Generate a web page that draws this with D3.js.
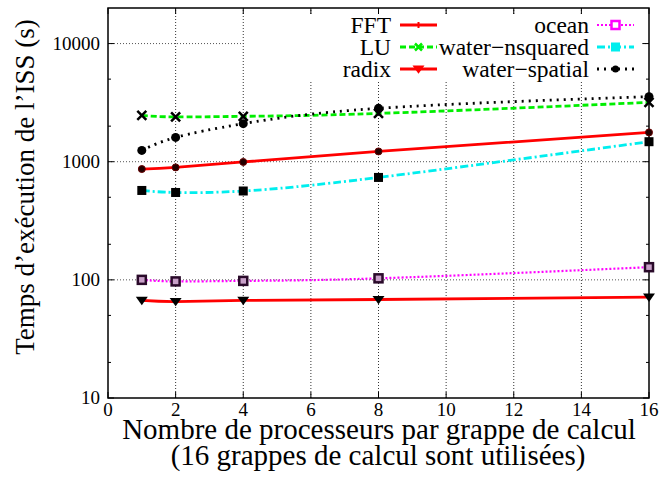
<!DOCTYPE html>
<html>
<head>
<meta charset="utf-8">
<script src="https://cdn.jsdelivr.net/npm/d3@7"></script>
<style>
  body { margin: 0; background: #fff; }
</style>
</head>
<body>
<div id="chart"></div>
<script>
// data
var procs = [1, 2, 4, 8, 16];
var fft = [867, 895, 995, 1222, 1771];
var lu = [2468, 2393, 2421, 2563, 3177];
var radix = [67, 65.5, 67, 68.2, 71.3];
var ocean = [100, 97, 98, 103, 128];
var waterNsquared = [571, 549, 565, 736, 1477];
var waterSpatial = [1247, 1606, 2099, 2830, 3555];

var xTicks = [0, 2, 4, 6, 8, 10, 12, 14, 16];
var yTicks = [10, 100, 1000, 10000];
var yMinor = [20, 50, 200, 500, 2000, 5000];

var width = 663, height = 478;
var margin = {left: 108, right: 14, top: 8, bottom: 80};
var serif = "'Liberation Serif'";

var svg = d3.select("#chart").append("svg")
  .attr("width", width)
  .attr("height", height);

var x = d3.scaleLinear().domain([0, 16]).range([margin.left, width - margin.right]);
var y = d3.scaleLog().domain([10, 20000]).range([height - margin.bottom, margin.top]);

var x0 = x.range()[0], x1 = x.range()[1], y0 = y.range()[0], y1 = y.range()[1];

// grid
var grid = svg.append("g");
grid.selectAll(".gx")
  .data(xTicks.filter(function(d) { return d > 0 && d < 16; }))
  .enter().append("line")
    .attr("x1", function(d) { return x(d); })
    .attr("x2", function(d) { return x(d); })
    .attr("y1", y0).attr("y2", y1)
    .attr("stroke", "#333").attr("stroke-width", 1)
    .attr("stroke-dasharray", "1,2");
grid.selectAll(".gy")
  .data(yTicks.filter(function(d) { return d > 10; }))
  .enter().append("line")
    .attr("x1", x0).attr("x2", x1)
    .attr("y1", function(d) { return y(d); })
    .attr("y2", function(d) { return y(d); })
    .attr("stroke", "#555").attr("stroke-width", 1)
    .attr("stroke-dasharray", "1,2");

// key box hides the grid
svg.append("rect")
  .attr("x", 245).attr("y", 15)
  .attr("width", 396).attr("height", 66)
  .attr("fill", "#fff");

// ticks on all four sides
var ticks = svg.append("g").attr("stroke", "#000").attr("stroke-width", 1);
xTicks.forEach(function(d) {
  ticks.append("line").attr("x1", x(d)).attr("x2", x(d)).attr("y1", y0).attr("y2", y0 - 6);
  ticks.append("line").attr("x1", x(d)).attr("x2", x(d)).attr("y1", y1).attr("y2", y1 + 6);
});
yTicks.forEach(function(d) {
  ticks.append("line").attr("x1", x0).attr("x2", x0 + 6).attr("y1", y(d)).attr("y2", y(d));
  ticks.append("line").attr("x1", x1).attr("x2", x1 - 6).attr("y1", y(d)).attr("y2", y(d));
});
yMinor.forEach(function(d) {
  ticks.append("line").attr("x1", x0).attr("x2", x0 + 3).attr("y1", y(d)).attr("y2", y(d));
  ticks.append("line").attr("x1", x1).attr("x2", x1 - 3).attr("y1", y(d)).attr("y2", y(d));
});

svg.append("rect")
  .attr("x", x0).attr("y", y1)
  .attr("width", x1 - x0).attr("height", y0 - y1)
  .attr("fill", "none").attr("stroke", "#000").attr("stroke-width", 1.5);

// tick labels
svg.selectAll(".xl").data(xTicks).enter().append("text")
  .attr("x", function(d) { return x(d); })
  .attr("y", y0 + 18)
  .attr("text-anchor", "middle")
  .style("font-family", serif)
  .style("font-size", "19px")
  .text(function(d) { return d; });
svg.selectAll(".yl").data(yTicks).enter().append("text")
  .attr("x", x0 - 8)
  .attr("y", function(d) { return y(d) + 6; })
  .attr("text-anchor", "end")
  .style("font-family", serif)
  .style("font-size", "19px")
  .text(function(d) { return d; });

// axis titles
svg.append("text")
  .attr("transform", "translate(34,187) rotate(-90)")
  .attr("text-anchor", "middle")
  .style("font-family", serif)
  .style("font-size", "27px")
  .text("Temps d’exécution de l’ISS (s)");
svg.append("text")
  .attr("x", 379).attr("y", 439)
  .attr("text-anchor", "middle")
  .style("font-family", serif)
  .style("font-size", "29px")
  .text("Nombre de processeurs par grappe de calcul");
svg.append("text")
  .attr("x", 378).attr("y", 465)
  .attr("text-anchor", "middle")
  .style("font-family", serif)
  .style("font-size", "29px")
  .text("(16 grappes de calcul sont utilisées)");

// series
var series = [
  {name: "FFT", values: fft, color: "#ff0000", dash: null, mark: "plus", plotMark: "dot"},
  {name: "LU", values: lu, color: "#00ee00", dash: "6,3", mark: "cross", plotMark: "cross"},
  {name: "radix", values: radix, color: "#ff0000", dash: null, mark: "tri", plotMark: "tri"},
  {name: "ocean", values: ocean, color: "#ff00ff", dash: "2,2", mark: "osquare", plotMark: "osquare"},
  {name: "water−nsquared", values: waterNsquared, color: "#00eeee", dash: "8,3,2,3", mark: "square", plotMark: "square"},
  {name: "water−spatial", values: waterSpatial, color: "#000000", dash: "2,5", mark: "circle", plotMark: "circle"}
];

var line = d3.line()
  .x(function(d, i) { return x(procs[i]); })
  .y(function(d) { return y(d); })
  .curve(d3.curveNatural);

function drawMark(g, type, cx, cy, color, inLegend) {
  if (type == "dot") {
    g.append("circle").attr("cx", cx).attr("cy", cy).attr("r", 3.5)
      .attr("fill", "#200").attr("stroke", "#600").attr("stroke-width", 1);
  } else if (type == "plus") {
    g.append("path").attr("d", "M" + (cx - 3) + "," + cy + "H" + (cx + 3) + "M" + cx + "," + (cy - 3) + "V" + (cy + 3))
      .attr("stroke", color).attr("stroke-width", 2);
  } else if (type == "cross") {
    var s = inLegend ? 3.5 : 4.5;
    g.append("path").attr("d", "M" + (cx - s) + "," + (cy - s) + "L" + (cx + s) + "," + (cy + s) + "M" + (cx - s) + "," + (cy + s) + "L" + (cx + s) + "," + (cy - s))
      .attr("stroke", inLegend ? color : "#000").attr("stroke-width", 2.5);
  } else if (type == "tri") {
    var t = 6;
    g.append("path").attr("d", "M" + (cx - t) + "," + (cy - t * 0.6) + "L" + (cx + t) + "," + (cy - t * 0.6) + "L" + cx + "," + (cy + t * 0.8) + "Z")
      .attr("fill", inLegend ? color : "#000");
  } else if (type == "osquare") {
    g.append("rect").attr("x", cx - 4).attr("y", cy - 4).attr("width", 8).attr("height", 8)
      .attr("fill", inLegend ? "#fff" : "#c8a0c8")
      .attr("stroke", inLegend ? color : "#2a0a2a").attr("stroke-width", 2.5);
  } else if (type == "square") {
    g.append("rect").attr("x", cx - 4.5).attr("y", cy - 4.5).attr("width", 9).attr("height", 9)
      .attr("fill", inLegend ? color : "#000");
  } else if (type == "circle") {
    g.append("circle").attr("cx", cx).attr("cy", cy).attr("r", inLegend ? 3.5 : 4.5)
      .attr("fill", "#000");
  }
}

series.forEach(function(s) {
  svg.append("path")
    .datum(s.values)
    .attr("d", line)
    .attr("fill", "none")
    .attr("stroke", s.color)
    .attr("stroke-width", s.name == "ocean" ? 2.2 : 2.8)
    .attr("stroke-dasharray", s.dash);
});
series.forEach(function(s) {
  var g = svg.append("g");
  s.values.forEach(function(v, i) {
    drawMark(g, s.plotMark, x(procs[i]), y(v), s.color, false);
  });
});

// legend, two columns of three
var legend = svg.append("g");
series.forEach(function(s, i) {
  var col = Math.floor(i / 3), row = i % 3;
  var tx = col == 0 ? 391 : 589;
  var lx = col == 0 ? 400 : 597;
  var ly = 25 + row * 22;
  legend.append("text")
    .attr("x", tx).attr("y", ly + 8)
    .attr("text-anchor", "end")
    .style("font-family", serif)
    .style("font-size", "23.5px")
    .text(s.name);
  legend.append("line")
    .attr("x1", lx).attr("x2", lx + 37)
    .attr("y1", ly).attr("y2", ly)
    .attr("stroke", s.color)
    .attr("stroke-width", s.name == "ocean" ? 2.2 : 2.8)
    .attr("stroke-dasharray", s.dash);
  drawMark(legend, s.mark, lx + 18.5, ly, s.color, true);
});
</script>
</body>
</html>
